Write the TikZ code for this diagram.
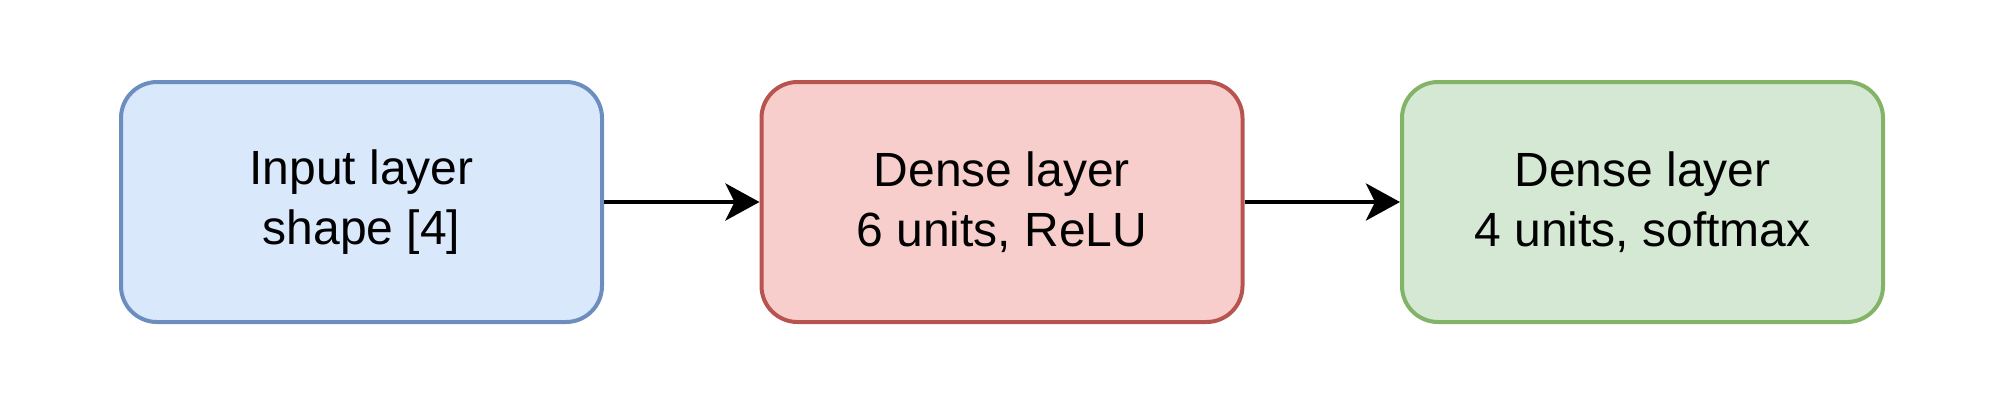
\documentclass[tikz,border=0pt]{standalone}
\usepackage{fontspec}
\setmainfont{Liberation Sans}
\usetikzlibrary{arrows.meta}
\definecolor{bluefill}{HTML}{DAE8FC}
\definecolor{bluedraw}{HTML}{6C8EBF}
\definecolor{redfill}{HTML}{F8CECC}
\definecolor{reddraw}{HTML}{B85450}
\definecolor{greenfill}{HTML}{D5E8D4}
\definecolor{greendraw}{HTML}{82B366}
\tikzset{
  layerbox/.style={rounded corners=36pt, line width=4pt, minimum width=481pt, minimum height=240pt,
    align=center, font=\fontsize{48}{60}\selectfont, inner sep=0pt},
  conn/.style={line width=4pt, -{Stealth[length=34pt, width=37pt, inset=9pt]}}
}
\begin{document}
\begin{tikzpicture}[x=1pt,y=-1pt]
\useasboundingbox (0,0) rectangle (2004,400);
\node[layerbox, fill=bluefill, draw=bluedraw] (in) at (361.5,202) {Input layer\\shape [4]};
\node[layerbox, fill=redfill, draw=reddraw] (d1) at (1002,202) {Dense layer\\6 units, ReLU};
\node[layerbox, fill=greenfill, draw=greendraw] (d2) at (1642.5,202) {Dense layer\\4 units, softmax};
\draw[conn] (in) -- (d1);
\draw[conn] (d1) -- (d2);
\end{tikzpicture}
\end{document}
